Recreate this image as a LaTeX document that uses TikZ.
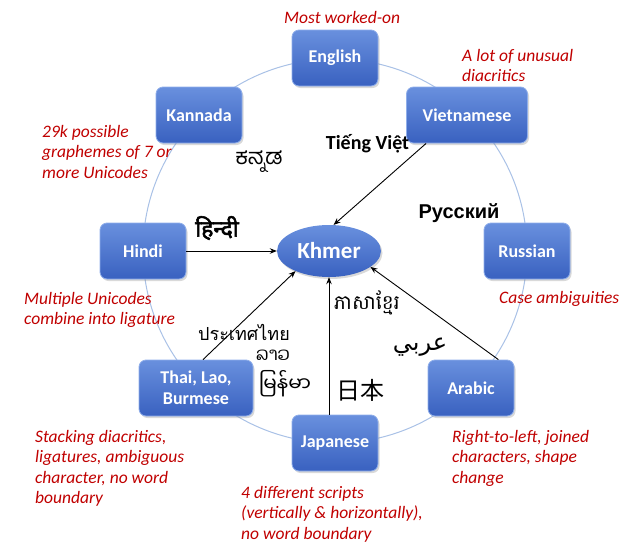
\documentclass[tikz,border=0pt]{standalone}
\usepackage{fontspec}
\setmainfont{Carlito}
\newfontfamily\kanfont[Script=Kannada]{Hind Mysuru}
\newfontfamily\devfont[Script=Devanagari, AutoFakeBold=2.5]{Noto Sans}
\newfontfamily\khmfont[Script=Khmer]{Battambang}
\newfontfamily\arabicfont[Script=Arabic]{DejaVu Sans}
\newfontfamily\thaifont[Script=Thai]{Loma}
\newfontfamily\laofont[Script=Lao]{Dhyana}
\newfontfamily\myafont[Script=Myanmar]{Noto Sans Myanmar UI}
\newfontfamily\cjkfont{Noto Sans CJK JP}
\newfontfamily\rufont{Liberation Sans}
\TeXXeTstate=1
\usetikzlibrary{arrows.meta,shadows,calc,shapes.geometric}

\definecolor{boxtop}{HTML}{6990DE}
\definecolor{boxbot}{HTML}{3961C0}
\definecolor{boxedge}{HTML}{8FAEEA}
\definecolor{ringblue}{HTML}{A9C1E6}
\definecolor{notered}{HTML}{C00000}

\tikzset{
  langbox/.style={rounded corners=7pt, top color=boxtop, bottom color=boxbot,
    draw=boxedge, line width=0.8pt, minimum width=86pt, minimum height=56pt,
    inner sep=2pt, align=center, text=white, font=\fontsize{18}{19}\selectfont\bfseries,
    drop shadow={opacity=0.3, shadow xshift=1.5pt, shadow yshift=-2pt}},
  hub/.style={ellipse, top color=boxtop, bottom color=boxbot, draw=none,
    minimum width=104pt, minimum height=52pt, inner sep=0pt, text=white,
    font=\fontsize{23}{24}\selectfont\bfseries,
    drop shadow={opacity=0.3, shadow xshift=1.5pt, shadow yshift=-2pt}},
  % multi-line notes are placed by the baseline of their last line
  note/.style={anchor=base west, align=left, inner sep=0pt, text=notered,
    font=\fontsize{17.5}{20.5}\selectfont\itshape},
  script/.style={inner sep=0pt, text=black},
  arr/.style={-{Stealth[length=7pt,width=5.5pt]}, line width=0.9pt, black}
}

\begin{document}
\begin{tikzpicture}[x=1pt, y=-1pt]
  \useasboundingbox (0,0) rectangle (630,544);

  % ring linking the languages
  \draw[ringblue, line width=1pt] (335,251) circle (192);

  % language boxes around the ring
  \node[langbox] (english) at (335,58) {English};
  \node[langbox, minimum width=121pt] (viet) at (467,115) {Vietnamese};
  \node[langbox] (kannada) at (199,115) {Kannada};
  \node[langbox] (hindi) at (143,251) {Hindi};
  \node[langbox] (russian) at (527,251) {Russian};
  \node[langbox] (arabic) at (471,388) {Arabic};
  \node[langbox] (japanese) at (335,443) {Japanese};
  \node[langbox, minimum width=114pt, font=\fontsize{18}{21}\selectfont\bfseries] (thai) at (196,388) {Thai, Lao,\\Burmese};

  % central language
  \node[hub] (khmer) at (329,251) {Khmer};

  % arrows into the centre
  \draw[arr] ($(viet.south west)+(20,0)$) -- (khmer.80);
  \draw[arr] (hindi.east) -- (khmer.west);
  \draw[arr] ($(thai.north)+(7,0)$) -- (khmer.211);
  \draw[arr] (khmer.south |- japanese.north) -- (khmer.south);
  \draw[arr] ($(arabic.north east)+(-16,0)$) -- (khmer.339);

  % language names in their own scripts
  \node[script, anchor=base, font=\fontsize{20}{22}\selectfont\bfseries] (tviet) at (367.5,149) {Tiếng Việt};
  \node[script, font=\kanfont\fontsize{22}{24}\selectfont] (tkan) at (259,162) {ಕನ್ನಡ};
  \node[script, font=\devfont\fontsize{23}{25}\selectfont\bfseries] (thin) at (217,228) {हिन्दी};
  \node[script, font=\rufont\fontsize{20}{22}\selectfont\bfseries] (trus) at (459,213) {Русский};
  \node[script, font=\khmfont\fontsize{20}{22}\selectfont] (tkhm) at (367,303) {ភាសាខ្មែរ};
  \node[script, font=\arabicfont\fontsize{24}{26}\selectfont] (tara) at (420,347) {\beginR عربي\endR};
  \node[script, font=\cjkfont\fontsize{24}{26}\selectfont] (tjap) at (360,390) {日本};
  \node[script, font=\thaifont\fontsize{18}{20}\selectfont] (ttha) at (244,332) {ประเทศไทย};
  \node[script, font=\laofont\fontsize{18}{20}\selectfont] (tlao) at (273,355) {ລາວ};
  \node[script, font=\myafont\fontsize{20}{22}\selectfont] (tmya) at (285,384) {မြန်မာ};

  % notes on each writing system
  \node[note] (n1) at (284,23) {Most worked-on};
  \node[note] (n2) at (462,81.5) {A lot of unusual\\diacritics};
  \node[note] (n3) at (42,178) {29k possible\\graphemes of 7 or\\more Unicodes};
  \node[note] (n4) at (24,324.5) {Multiple Unicodes\\combine into ligature};
  \node[note] (n5) at (499,303) {Case ambiguities};
  \node[note] (n6) at (35,503.5) {Stacking diacritics,\\ligatures, ambiguous\\character, no word\\boundary};
  \node[note] (n7) at (452,483) {Right-to-left, joined\\characters, shape\\change};
  \node[note] (n8) at (241,539) {4 different scripts\\(vertically \& horizontally),\\no word boundary};
\end{tikzpicture}
\end{document}
